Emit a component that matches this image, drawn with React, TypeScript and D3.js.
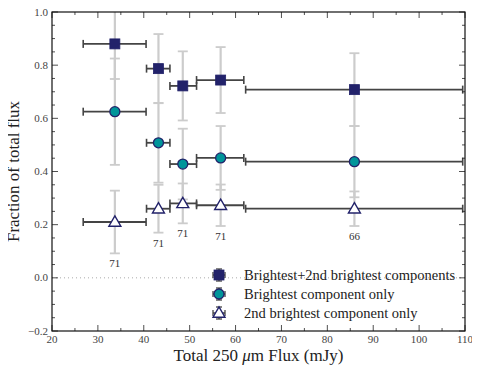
import { useRef, useEffect } from 'react';
import * as d3 from 'd3';

// bins in total 250um flux (mJy)
const fluxCenter = [33.7, 43.2, 48.5, 56.75, 85.9];
const fluxLow = [26.8, 40.6, 45.7, 51.5, 62.2];
const fluxHigh = [40.5, 45.7, 51.5, 61.8, 109.5];

const bothFrac = [0.88, 0.787, 0.722, 0.744, 0.708];
const bothErr = [0.132, 0.13, 0.13, 0.124, 0.137];
const brightFrac = [0.625, 0.508, 0.428, 0.451, 0.437];
const brightErr = [0.2, 0.15, 0.133, 0.12, 0.134];
const secondFrac = [0.21, 0.26, 0.28, 0.273, 0.26];
const secondErr = [0.118, 0.09, 0.075, 0.078, 0.065];
const counts = ['71', '71', '71', '71', '66'];

const xTicks = [20, 30, 40, 50, 60, 70, 80, 90, 100, 110];
const yTicks = [-0.2, 0.0, 0.2, 0.4, 0.6, 0.8, 1.0];

const legendLabels = [
  'Brightest+2nd brightest components',
  'Brightest component only',
  '2nd brightest component only',
];

function FractionPlot() {
  const svgRef = useRef(null);
  const width = 480;
  const height = 373;

  useEffect(() => {
    const margin = { top: 12, right: 15, bottom: 42, left: 52 };
    const svg = d3.select(svgRef.current);
    svg.selectAll('*').remove();

    const font = 'Liberation Serif';
    const navy = '#22226a';
    const teal = '#00959a';
    const dark = '#444444';
    const light = '#cccccc';

    const x = d3.scaleLinear().domain([20, 110]).range([margin.left, width - margin.right]);
    const y = d3.scaleLinear().domain([-0.2, 1.0]).range([height - margin.bottom, margin.top]);

    svg
      .append('defs')
      .append('clipPath')
      .attr('id', 'plot-clip')
      .append('rect')
      .attr('x', margin.left)
      .attr('y', margin.top)
      .attr('width', width - margin.left - margin.right)
      .attr('height', height - margin.top - margin.bottom);

    // zero line
    svg
      .append('line')
      .attr('x1', x(20))
      .attr('x2', x(110))
      .attr('y1', y(0))
      .attr('y2', y(0))
      .attr('stroke', '#aaaaaa')
      .attr('stroke-width', 1)
      .attr('stroke-dasharray', '1,3');

    const plot = svg.append('g').attr('clip-path', 'url(#plot-clip)');

    const series = [
      { frac: bothFrac, err: bothErr, shape: 'square' },
      { frac: brightFrac, err: brightErr, shape: 'circle' },
      { frac: secondFrac, err: secondErr, shape: 'triangle' },
    ];

    const drawMarker = (g, shape, cx, cy) => {
      if (shape === 'square') {
        g.append('rect')
          .attr('x', cx - 5)
          .attr('y', cy - 5)
          .attr('width', 10)
          .attr('height', 10)
          .attr('fill', navy)
          .attr('stroke', navy)
          .attr('stroke-width', 0.8);
      } else if (shape === 'circle') {
        g.append('circle')
          .attr('cx', cx)
          .attr('cy', cy)
          .attr('r', 5)
          .attr('fill', teal)
          .attr('stroke', navy)
          .attr('stroke-width', 1.3);
      } else {
        const tri = d3.symbol().type(d3.symbolTriangle).size(62);
        g.append('path')
          .attr('d', tri())
          .attr('transform', `translate(${cx},${cy + 0.8})`)
          .attr('fill', 'white')
          .attr('stroke', navy)
          .attr('stroke-width', 1.4);
      }
    };

    // grey y errorbars
    series.forEach((s) => {
      s.frac.forEach((f, i) => {
        const cx = x(fluxCenter[i]);
        const top = y(f + s.err[i]);
        const bot = y(f - s.err[i]);
        plot
          .append('line')
          .attr('x1', cx)
          .attr('x2', cx)
          .attr('y1', top)
          .attr('y2', bot)
          .attr('stroke', light)
          .attr('stroke-width', 2.2);
        [top, bot].forEach((yy) => {
          plot
            .append('line')
            .attr('x1', cx - 5)
            .attr('x2', cx + 5)
            .attr('y1', yy)
            .attr('y2', yy)
            .attr('stroke', light)
            .attr('stroke-width', 1.8);
        });
      });
    });

    // dark x errorbars
    series.forEach((s) => {
      s.frac.forEach((f, i) => {
        const cy = y(f);
        const l = x(fluxLow[i]);
        const r = x(fluxHigh[i]);
        plot
          .append('line')
          .attr('x1', l)
          .attr('x2', r)
          .attr('y1', cy)
          .attr('y2', cy)
          .attr('stroke', dark)
          .attr('stroke-width', 1.8);
        [l, r].forEach((xx) => {
          plot
            .append('line')
            .attr('x1', xx)
            .attr('x2', xx)
            .attr('y1', cy - 4)
            .attr('y2', cy + 4)
            .attr('stroke', dark)
            .attr('stroke-width', 1.6);
        });
      });
    });

    // markers
    series.forEach((s) => {
      s.frac.forEach((f, i) => drawMarker(plot, s.shape, x(fluxCenter[i]), y(f)));
    });

    // number of sources under the triangles
    svg
      .append('g')
      .selectAll('text')
      .data(counts)
      .join('text')
      .attr('x', (_, i) => x(fluxCenter[i]))
      .attr('y', (_, i) => y(secondFrac[i] - secondErr[i]) + 14)
      .attr('text-anchor', 'middle')
      .style('font-family', font)
      .style('font-size', '11px')
      .attr('fill', '#333')
      .text((d) => d);

    // axes frame and ticks
    const frame = svg.append('g');
    const x0 = margin.left;
    const x1 = width - margin.right;
    const y0 = height - margin.bottom;
    const y1 = margin.top;

    d3.range(20, 110.01, 5).forEach((v) => {
      const len = v % 10 === 0 ? 6 : 3;
      [
        [y0, -len],
        [y1, len],
      ].forEach(([yy, d]) => {
        frame
          .append('line')
          .attr('x1', x(v))
          .attr('x2', x(v))
          .attr('y1', yy)
          .attr('y2', yy + d)
          .attr('stroke', '#222')
          .attr('stroke-width', 0.8);
      });
    });
    d3.range(-0.2, 1.0001, 0.05).forEach((v) => {
      const major = Math.abs(Math.round(v * 100) % 20) === 0;
      const len = major ? 6 : 3;
      [
        [x0, len],
        [x1, -len],
      ].forEach(([xx, d]) => {
        frame
          .append('line')
          .attr('x1', xx)
          .attr('x2', xx + d)
          .attr('y1', y(v))
          .attr('y2', y(v))
          .attr('stroke', '#222')
          .attr('stroke-width', 0.8);
      });
    });

    frame
      .append('rect')
      .attr('x', x0)
      .attr('y', y1)
      .attr('width', x1 - x0)
      .attr('height', y0 - y1)
      .attr('fill', 'none')
      .attr('stroke', '#111')
      .attr('stroke-width', 1.2);

    frame
      .selectAll('.xlab')
      .data(xTicks)
      .join('text')
      .attr('class', 'xlab')
      .attr('x', (d) => x(d))
      .attr('y', y0 + 12)
      .attr('text-anchor', 'middle')
      .style('font-family', font)
      .style('font-size', '11px')
      .attr('fill', '#444')
      .text((d) => d);

    frame
      .selectAll('.ylab')
      .data(yTicks)
      .join('text')
      .attr('class', 'ylab')
      .attr('x', x0 - 4)
      .attr('y', (d) => y(d) + 3.5)
      .attr('text-anchor', 'end')
      .style('font-family', font)
      .style('font-size', '11px')
      .attr('fill', '#444')
      .text((d) => (d < 0 ? '\u2212' : '') + Math.abs(d).toFixed(1));

    // axis titles
    const xTitle = svg
      .append('text')
      .attr('x', (x0 + x1) / 2)
      .attr('y', height - 12)
      .attr('text-anchor', 'middle')
      .style('font-family', font)
      .style('font-size', '17px')
      .attr('fill', '#222');
    xTitle.append('tspan').text('Total 250 ');
    xTitle.append('tspan').attr('font-style', 'italic').text('\u03bc');
    xTitle.append('tspan').text('m Flux (mJy)');

    svg
      .append('text')
      .attr('transform', `translate(19,${(y0 + y1) / 2}) rotate(-90)`)
      .attr('text-anchor', 'middle')
      .style('font-family', font)
      .style('font-size', '17px')
      .attr('fill', '#222')
      .text('Fraction of total flux');

    // legend
    const legend = svg.append('g');
    legendLabels.forEach((label, i) => {
      const ly = 275 + i * 19;
      const lx = 219;
      legend
        .append('line')
        .attr('x1', lx - 6)
        .attr('x2', lx + 6)
        .attr('y1', ly)
        .attr('y2', ly)
        .attr('stroke', dark)
        .attr('stroke-width', 1.5);
      legend
        .append('line')
        .attr('x1', lx)
        .attr('x2', lx)
        .attr('y1', ly - 6)
        .attr('y2', ly + 6)
        .attr('stroke', dark)
        .attr('stroke-width', 1.5);
      [-6, 6].forEach((d) => {
        legend
          .append('line')
          .attr('x1', lx + d)
          .attr('x2', lx + d)
          .attr('y1', ly - 3)
          .attr('y2', ly + 3)
          .attr('stroke', dark)
          .attr('stroke-width', 1.3);
        legend
          .append('line')
          .attr('x1', lx - 3)
          .attr('x2', lx + 3)
          .attr('y1', ly + d)
          .attr('y2', ly + d)
          .attr('stroke', dark)
          .attr('stroke-width', 1.3);
      });
      drawMarker(legend, series[i].shape, lx, ly);
      legend
        .append('text')
        .attr('x', 244)
        .attr('y', ly + 4.5)
        .style('font-family', font)
        .style('font-size', '14.5px')
        .attr('fill', '#222')
        .text(label);
    });
  }, []);

  return <svg ref={svgRef} width={width} height={height} style={{ display: 'block' }}></svg>;
}

export default function App() {
  return (
    <div style={{ margin: -8 }}>
      <FractionPlot />
    </div>
  );
}
